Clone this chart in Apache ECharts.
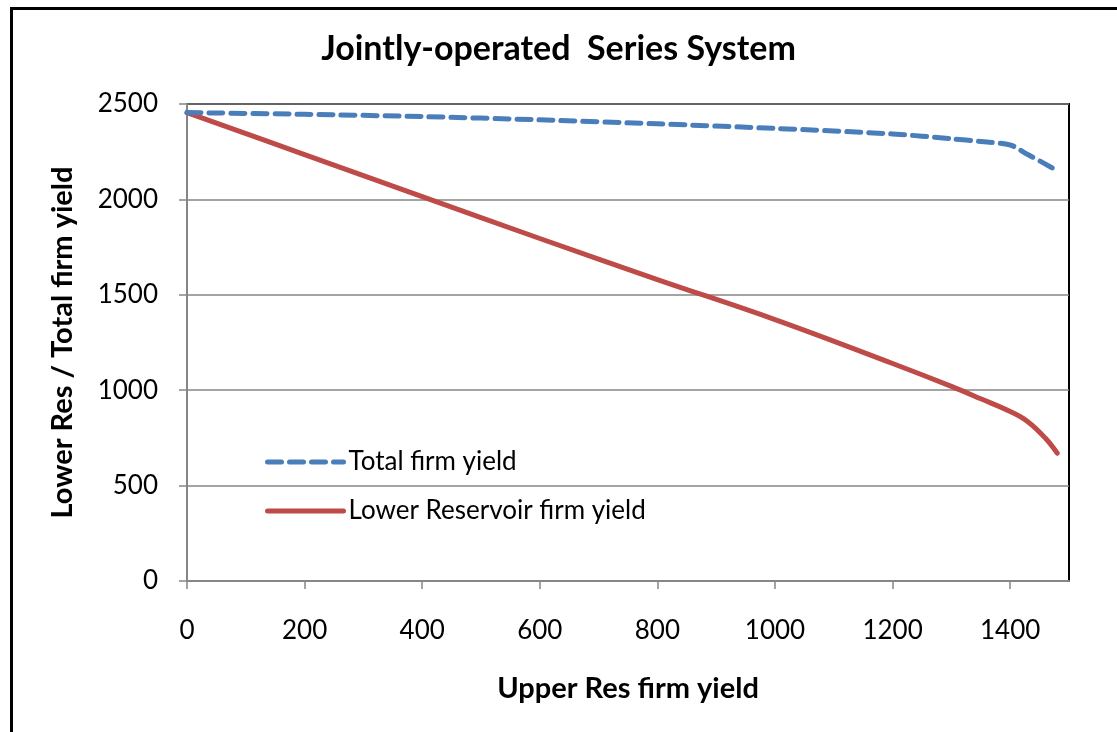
<!DOCTYPE html>
<html>
<head>
<meta charset="utf-8">
<script src="https://cdn.jsdelivr.net/npm/echarts@6/dist/echarts.min.js"></script>
<style>html,body{margin:0;padding:0;background:#fff}#c{width:1117px;height:732px}</style>
</head>
<body>
<div id="c"></div>
<script>
var titleText = 'Jointly-operated  Series System';
var xAxisName = 'Upper Res firm yield';
var yAxisName = 'Lower Res / Total firm yield';
var seriesNames = ['Total firm yield', 'Lower Reservoir firm yield'];
var upperYield = [0, 200, 400, 600, 800, 1000, 1200, 1300, 1350, 1400, 1430, 1460, 1480];
var totalYield = [2455, 2446, 2434, 2417, 2396, 2372, 2343, 2318, 2303, 2285, 2235, 2185, 2150];
var lowerYield = [2455, 2235, 2015, 1795, 1580, 1370, 1140, 1020, 955, 888, 835, 748, 670];

function pairs(xs, ys){ return xs.map(function(x,i){ return [x, ys[i]]; }); }

var font = 'Lato, "Open Sans", sans-serif';
var chart = echarts.init(document.getElementById('c'), null, {renderer:'canvas'});
chart.setOption({
  animation: false,
  backgroundColor: '#fff',
  title: {
    text: titleText, left: 'center', top: 27,
    textStyle: {fontFamily: font, fontWeight: 'bold', fontSize: 34, color: '#000'}
  },
  graphic: [{
    type: 'rect', left: 9, top: 6, z: 100,
    shape: {x: 0, y: 0, width: 1200, height: 800},
    style: {fill: 'none', stroke: '#000', lineWidth: 3}
  }],
  legend: {
    orient: 'vertical', left: 260, top: 444,
    itemWidth: 76, itemHeight: 14, itemGap: 23,
    textStyle: {fontFamily: font, fontSize: 26, color: '#000'},
    itemStyle: {opacity: 0, borderWidth: 0},
    lineStyle: {width: 5},
    data: seriesNames
  },
  grid: {
    left: 187, right: 48, top: 104, bottom: 151,
    show: true, borderColor: '#000', borderWidth: 2, backgroundColor: '#fff'
  },
  xAxis: {
    type: 'value', min: 0, max: 1500, interval: 200,
    name: xAxisName, nameLocation: 'middle', nameGap: 93,
    nameTextStyle: {fontFamily: font, fontWeight: 'bold', fontSize: 29, color: '#000'},
    axisLine: {show: true, onZero: false, lineStyle: {color: '#868686', width: 2}},
    axisTick: {show: true, length: 8, lineStyle: {color: '#868686', width: 1.5}},
    axisLabel: {margin: 37, showMaxLabel: false, fontFamily: font, fontSize: 26, color: '#000',
      formatter: function(v){ return String(v); }},
    splitLine: {show: false}
  },
  yAxis: {
    type: 'value', min: 0, max: 2500, interval: 500,
    name: yAxisName, nameLocation: 'middle', nameGap: 110,
    nameTextStyle: {fontFamily: font, fontWeight: 'bold', fontSize: 29, color: '#000'},
    axisLine: {show: true, lineStyle: {color: '#868686', width: 2}},
    axisTick: {show: true, length: 8, lineStyle: {color: '#868686', width: 1.5}},
    axisLabel: {margin: 29, fontFamily: font, fontSize: 26, color: '#000',
      formatter: function(v){ return String(v); }},
    splitLine: {show: true, lineStyle: {color: '#868686', width: 1.5}}
  },
  series: [{
    name: seriesNames[0], type: 'line', data: pairs(upperYield, totalYield),
    smooth: 0.3, symbol: 'none', z: 3,
    lineStyle: {color: '#4A7EBB', width: 5, type: [14, 8], cap: 'round'},
    itemStyle: {color: '#4A7EBB'}
  }, {
    name: seriesNames[1], type: 'line', data: pairs(upperYield, lowerYield),
    smooth: 0.4, symbol: 'none', z: 2,
    lineStyle: {color: '#BE4B48', width: 5, cap: 'round'},
    itemStyle: {color: '#BE4B48'}
  }]
});
</script>
</body>
</html>
